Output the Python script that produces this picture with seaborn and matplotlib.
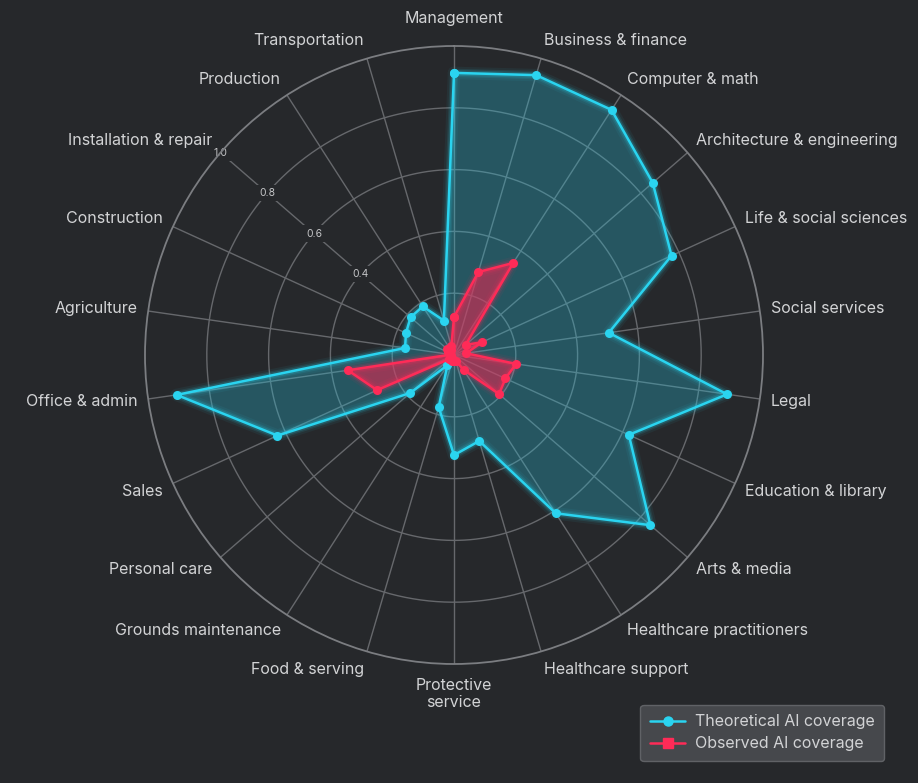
import numpy as np
import matplotlib
matplotlib.use("Agg")
import matplotlib.pyplot as plt
from matplotlib.lines import Line2D
import seaborn as sns
import pandas as pd

categories = ["Management", "Business & finance", "Computer & math",
              "Architecture & engineering", "Life & social sciences",
              "Social services", "Legal", "Education & library", "Arts & media",
              "Healthcare practitioners", "Healthcare support",
              "Protective\nservice", "Food & serving", "Grounds maintenance",
              "Personal care", "Sales", "Office & admin", "Agriculture",
              "Construction", "Installation & repair", "Production",
              "Transportation"]
theoretical = [0.913, 0.944, 0.943, 0.851, 0.774, 0.506, 0.893, 0.622, 0.841,
               0.609, 0.29, 0.324, 0.176, 0.04, 0.188, 0.628, 0.907, 0.16,
               0.171, 0.186, 0.187, 0.116]
observed = [0.123, 0.28, 0.354, 0.05, 0.10, 0.04, 0.203, 0.183, 0.193,
            0.057, 0.02, 0.02, 0.02, 0.01, 0.02, 0.274, 0.347, 0.01,
            0.02, 0.03, 0.02, 0.03]
rticks = [0.4, 0.6, 0.8, 1.0]
series_names = ["Theoretical AI coverage", "Observed AI coverage"]

BG = "#26282b"
GRID = "#66686c"
TXT = "#d2d3d5"
CYAN = "#2ad4f0"
RED = "#ff2b57"

sns.set_theme(style="dark")
plt.rcParams["font.family"] = ["Inter", "DejaVu Sans"]

W, H = 918, 783
fig = plt.figure(figsize=(W / 100, H / 100), dpi=100, facecolor=BG)
cx, cy, R = 454, 355, 309
ax = fig.add_axes([(cx - R) / W, (H - cy - R) / H, 2 * R / W, 2 * R / H],
                  projection="polar", facecolor=BG)
ax.set_theta_zero_location("N")
ax.set_theta_direction(-1)
ax.set_ylim(0, 1)

n = len(categories)
theta = np.arange(n) * 2 * np.pi / n

# grid
ax.grid(False)
ax.set_xticks([])
ax.set_yticks([])
ax.spines["polar"].set_color("#7b7d81")
ax.spines["polar"].set_linewidth(1.3)
circ_t = np.linspace(0, 2 * np.pi, 400)
for r in [0.2, 0.4, 0.6, 0.8]:
    ax.plot(circ_t, np.full_like(circ_t, r), color=GRID, lw=1.0, zorder=1)
for t in theta:
    ax.plot([t, t], [0, 1], color=GRID, lw=1.0, zorder=1)

# radial labels along Installation & repair spoke
t_lab = theta[19]
for r in rticks:
    ax.text(t_lab, r, f"{r:.1f}", color="#c4c5c7", fontsize=7.5, ha="center",
            va="center", zorder=2,
            bbox=dict(boxstyle="square,pad=0.3", fc=BG, ec="none"))

# data
tt = np.append(theta, theta[0])
df = pd.DataFrame({
    "theta": np.concatenate([tt, tt]),
    "value": np.concatenate([np.append(theoretical, theoretical[0]),
                             np.append(observed, observed[0])]),
    "series": [series_names[0]] * (n + 1) + [series_names[1]] * (n + 1),
})
pal = {series_names[0]: CYAN, series_names[1]: RED}

th = df[df.series == series_names[0]]
ob = df[df.series == series_names[1]]
ax.fill(th.theta, th.value, color="#27c3e0", alpha=0.30, zorder=3, lw=0)
for lw, a in [(9, 0.06), (6, 0.10), (4, 0.18)]:
    ax.plot(th.theta, th.value, color=CYAN, lw=lw, alpha=a, zorder=4,
            solid_joinstyle="round")
ax.fill(ob.theta, ob.value, color="#f0234f", alpha=0.55, zorder=5, lw=0)
for lw, a in [(9, 0.06), (6, 0.10), (4, 0.18)]:
    ax.plot(ob.theta, ob.value, color=RED, lw=lw, alpha=a, zorder=6,
            solid_joinstyle="round")

sns.lineplot(data=df, x="theta", y="value", hue="series", palette=pal,
             sort=False, estimator=None, marker="o", markersize=6.5,
             markeredgewidth=0, linewidth=1.8, ax=ax, legend=False, zorder=7)
ax.set_xlabel("")
ax.set_ylabel("")
ax.set_ylim(0, 1)
ax.grid(False)

# category labels
for t, lab in zip(theta, categories):
    ux, uy = np.sin(t), np.cos(t)  # screen direction (x right, y up)
    if abs(ux) < 0.05:
        ha = "center"
        va = "bottom" if uy > 0 else "top"
        pad = 20 if uy > 0 else 14
        dx, dy = 0, pad * np.sign(uy)
    else:
        ha = "left" if ux > 0 else "right"
        va = "center"
        pad = 11
        dx = pad * ux
        dy = pad * uy + 8 * uy
    ax.annotate(lab, xy=(t, 1.0), xytext=(dx, dy), textcoords="offset pixels",
                ha=ha, va=va, color=TXT, fontsize=11.5, annotation_clip=False,
                multialignment="center", linespacing=1.15)

# legend
handles = [Line2D([0], [0], color=CYAN, marker="o", markersize=6.5, lw=1.8),
           Line2D([0], [0], color=RED, marker="s", markersize=6.5, lw=1.8)]
leg = fig.legend(handles, series_names, loc="lower right",
                 bbox_to_anchor=(892 / W, 14 / H), frameon=True,
                 fontsize=11.5, labelcolor=TXT, handlelength=2.2,
                 borderpad=0.6, labelspacing=0.45, handletextpad=0.6,
                 borderaxespad=0.5)
fr = leg.get_frame()
fr.set_facecolor("#4a4c50")
fr.set_alpha(0.9)
fr.set_edgecolor("#65676b")
fr.set_linewidth(1.0)

fig.savefig("out.png", dpi=100, facecolor=BG)
